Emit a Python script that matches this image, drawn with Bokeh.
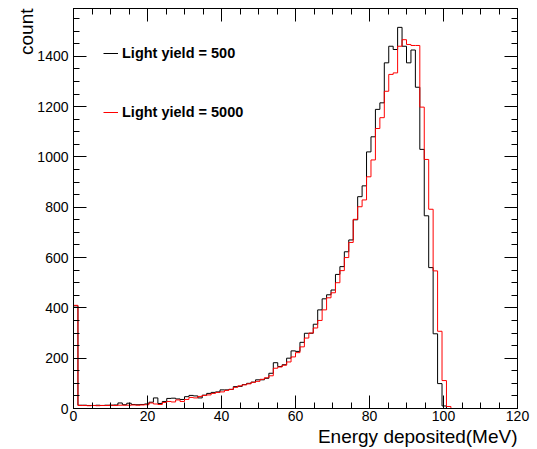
from bokeh.plotting import figure
from bokeh.models import (Range1d, LinearAxis, SingleIntervalTicker, Title, Legend,
                          LegendItem, CustomJSTickFormatter, ColumnDataSource)
from bokeh.embed import file_html
from bokeh.resources import INLINE

# ---- data -------------------------------------------------------------
x_min, x_max, n_bins = 0.0, 120.0, 100          # histogram binning (MeV)
x_label = "Energy deposited(MeV)"
y_label = "count"
series_names = ["Light yield = 500", "Light yield = 5000"]

counts_ly500 = [
    408, 13, 13, 12, 12, 13, 12, 13, 13, 14,
    22, 15, 21, 16, 15, 16, 18, 25, 42, 20,
    28, 40, 41, 38, 36, 47, 52, 50, 42, 53,
    60, 64, 66, 74, 74, 76, 87, 88, 95, 100,
    105, 114, 114, 120, 140, 182, 167, 174, 200, 229,
    227, 263, 299, 299, 335, 392, 436, 452, 471, 533,
    564, 623, 670, 750, 842, 885, 1020, 1080, 1189, 1215,
    1374, 1440, 1427, 1515, 1440, 1374, 1425, 1277, 1030, 766,
    560, 297, 99, 10, 0, 0, 0, 0, 0, 0,
    0, 0, 0, 0, 0, 0, 0, 0, 0, 0,
]
counts_ly5000 = [
    410, 12, 12, 11, 12, 11, 12, 12, 13, 12,
    13, 13, 13, 14, 13, 14, 15, 22, 18, 16,
    24, 28, 26, 34, 28, 36, 44, 42, 48, 52,
    54, 60, 64, 66, 72, 76, 84, 90, 94, 98,
    104, 108, 116, 122, 130, 160, 165, 172, 185, 205,
    222, 245, 280, 300, 320, 350, 392, 440, 460, 500,
    548, 600, 660, 752, 802, 829, 921, 988, 1113, 1156,
    1261, 1328, 1334, 1440, 1466, 1447, 1443, 1443, 1198, 990,
    792, 547, 307, 111, 8, 0, 0, 0, 0, 0,
    0, 0, 0, 0, 0, 0, 0, 0, 0, 0,
]

bin_width = (x_max - x_min) / n_bins
bin_edges = [x_min + i * bin_width for i in range(n_bins + 1)]

FONT = "Liberation Sans"

p = figure(width=537, height=449, output_backend="svg", toolbar_location=None,
           x_range=Range1d(x_min, x_max), y_range=Range1d(0, 1590),
           min_border_left=73, min_border_right=20, min_border_top=8, min_border_bottom=41,
           x_axis_type=None, y_axis_type=None)
p.background_fill_color = "white"
p.border_fill_color = "white"
p.outline_line_color = "black"
p.outline_line_width = 1
p.xgrid.visible = False
p.ygrid.visible = False

blank = CustomJSTickFormatter(code="return ''")


def style_axis(ax, labels=True):
    ax.axis_line_color = "black"
    ax.major_tick_line_color = "black"
    ax.minor_tick_line_color = "black"
    ax.major_tick_in = 13
    ax.major_tick_out = 0
    ax.minor_tick_in = 6
    ax.minor_tick_out = 0
    ax.major_label_text_font = FONT
    ax.major_label_text_font_size = "14px"
    ax.major_label_text_color = "black"
    if not labels:
        ax.formatter = blank
        ax.major_label_standoff = 0


xb = LinearAxis(ticker=SingleIntervalTicker(interval=20, num_minor_ticks=4))
style_axis(xb)
xb.major_label_standoff = 2
p.add_layout(xb, "below")

xt = LinearAxis(ticker=SingleIntervalTicker(interval=20, num_minor_ticks=4))
style_axis(xt, labels=False)
p.add_layout(xt, "above")

yl = LinearAxis(ticker=SingleIntervalTicker(interval=200, num_minor_ticks=4))
style_axis(yl)
yl.major_label_standoff = 5
p.add_layout(yl, "left")

yr = LinearAxis(ticker=SingleIntervalTicker(interval=200, num_minor_ticks=4))
style_axis(yr, labels=False)
p.add_layout(yr, "right")

src1 = ColumnDataSource(dict(x=bin_edges, y=counts_ly500 + counts_ly500[-1:]))
src2 = ColumnDataSource(dict(x=bin_edges, y=counts_ly5000 + counts_ly5000[-1:]))
r1 = p.step("x", "y", source=src1, mode="after", line_color="black", line_width=1)
r2 = p.step("x", "y", source=src2, mode="after", line_color="#ff0000", line_width=1)

legend = Legend(items=[LegendItem(label=series_names[0], renderers=[r1]),
                       LegendItem(label=series_names[1], renderers=[r2])],
                location=(30, 286), orientation="vertical",
                glyph_width=15, glyph_height=20, label_height=20, label_standoff=4,
                spacing=39, padding=0, margin=0,
                border_line_alpha=0, background_fill_alpha=0,
                label_text_font=FONT, label_text_font_style="bold",
                label_text_font_size="14.5px", label_text_color="black")
p.add_layout(legend)

xt_title = Title(text=x_label, align="right", text_font=FONT, text_font_size="19px",
                 text_font_style="normal", text_color="black", standoff=0, offset=0)
p.add_layout(xt_title, "below")

yt_title = Title(text=y_label, align="right", text_font=FONT, text_font_size="19px",
                 text_font_style="normal", text_color="black", standoff=-5, offset=0)
p.add_layout(yt_title, "left")

open("out.html", "w").write(file_html(p, INLINE))
